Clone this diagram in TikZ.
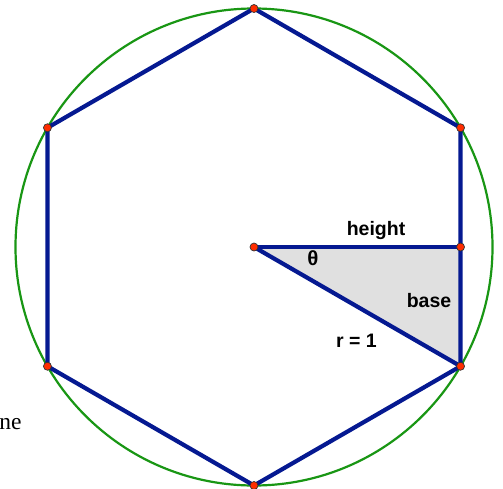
\documentclass[tikz,border=0pt]{standalone}
\usepackage{fontspec}
\newfontfamily\lsans{Liberation Sans}
\newfontfamily\lserif{Liberation Serif}
\definecolor{hexblue}{RGB}{5,25,145}
\definecolor{circgreen}{RGB}{25,150,20}
\definecolor{dotred}{RGB}{255,45,0}
\definecolor{trigray}{RGB}{224,224,224}
\tikzset{
  hexline/.style={draw=hexblue, line width=4.2pt, line join=round, line cap=round},
  circline/.style={draw=circgreen, line width=2.2pt},
  pdot/.style={circle, fill=dotred, draw=black!80, line width=0.7pt, minimum size=8pt, inner sep=0pt},
  lbl/.style={font=\lsans\bfseries\fontsize{19.5}{20}\selectfont, inner sep=0pt, anchor=base, text=black},
}
\begin{document}
\begin{tikzpicture}[x=1pt,y=-1pt]
\useasboundingbox (0,0) rectangle (503,488);
% geometry
\coordinate (C) at (254,247);
\coordinate (T) at (254,8.5);
\coordinate (UR) at (460.55,127.75);
\coordinate (LR) at (460.55,366.25);
\coordinate (B) at (254,485.5);
\coordinate (LL) at (47.45,366.25);
\coordinate (UL) at (47.45,127.75);
\coordinate (M) at (460.55,247);
% circle
\draw[circline] (C) circle (238.5);
% shaded triangle
\fill[fill=trigray] (C) -- (M) -- (LR) -- cycle;
% hexagon
\draw[hexline] (T) -- (UR) -- (LR) -- (B) -- (LL) -- (UL) -- cycle;
% radius lines
\draw[hexline] (C) -- (M);
\draw[hexline] (C) -- (LR);
% dots
\foreach \p in {T,UR,LR,B,LL,UL,C,M} \node[pdot] (d\p) at (\p) {};
% labels
\node[lbl] (lh) at (376,235) {height};
\node[lbl] (lb) at (429,307) {base};
\node[lbl] (lr) at (356.5,347) {r = 1};
\node[lbl, font=\lsans\bfseries\fontsize{20.5}{21}\selectfont] (lt) at (313,265) {θ};
\node[inner sep=0pt, anchor=base west, font=\lserif\fontsize{23.5}{24}\selectfont] (ne) at (-0.8,429.5) {ne};
\end{tikzpicture}
\end{document}
